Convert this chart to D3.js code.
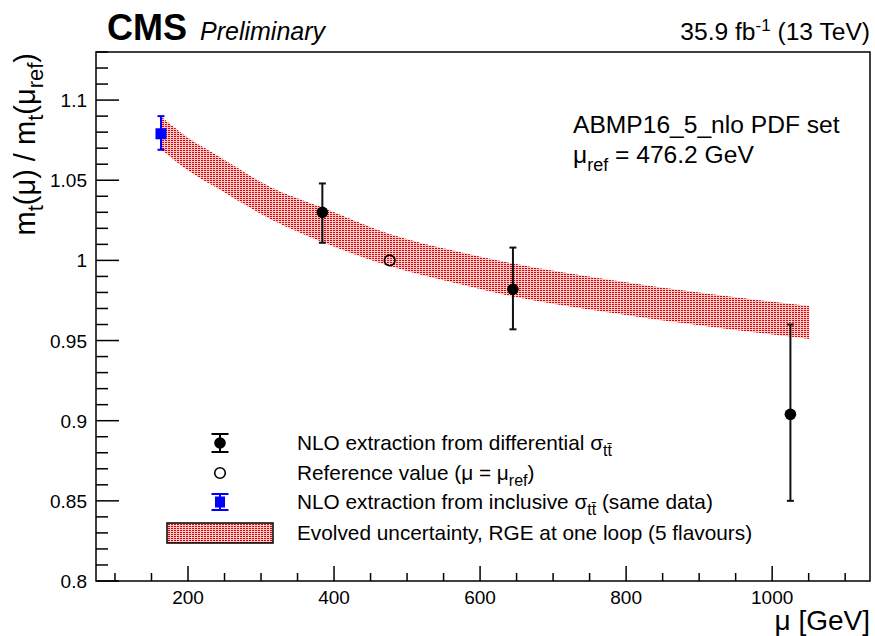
<!DOCTYPE html>
<html>
<head>
<meta charset="utf-8">
<script src="https://cdn.jsdelivr.net/npm/d3@7"></script>
<style>
  html, body { margin: 0; padding: 0; background: #fff; }
  svg { display: block; font-family: "Liberation Sans", Arial, Helvetica, sans-serif; }
</style>
</head>
<body>
<svg id="chart" width="875" height="636"></svg>
<script>
// ---------------- data ----------------
const xTicks = [200, 400, 600, 800, 1000];
const yTicks = [0.8, 0.85, 0.9, 0.95, 1.0, 1.05, 1.1];
const yTickLabels = ["0.8", "0.85", "0.9", "0.95", "1", "1.05", "1.1"];

// NLO extraction from differential cross section
const diffMu   = [384, 645, 1025];
const diffVal  = [1.030, 0.982, 0.904];
const diffErrUp = [0.018, 0.026, 0.056];
const diffErrDn = [0.019, 0.025, 0.054];

// Reference value
const refMu = [476.2];
const refVal = [1.0];

// NLO extraction from inclusive cross section
const inclMu = [163];
const inclVal = [1.079];
const inclErrUp = [0.011];
const inclErrDn = [0.010];

// Evolved uncertainty band
const bandMu = [164, 200, 242, 312, 384, 476, 560, 640, 777, 900, 1051];
const bandHi = [1.0895, 1.0765, 1.0650, 1.0460, 1.0330, 1.0165, 1.0065, 0.9985, 0.9880, 0.9800, 0.9715];
const bandLo = [1.0690, 1.0560, 1.0445, 1.0260, 1.0115, 0.9965, 0.9865, 0.9780, 0.9675, 0.9595, 0.9510];

// ---------------- layout ----------------
const svg = d3.select("#chart");
const L = 96, R = 870, T = 52, B = 581;
const x = d3.scaleLinear().domain([74, 1134]).range([L, R]);
const y = d3.scaleLinear().domain([0.8, 1.13]).range([B, T]);

// pattern
const defs = svg.append("defs");
const pat = defs.append("pattern").attr("id", "dots")
  .attr("width", 3).attr("height", 2).attr("patternUnits", "userSpaceOnUse");
pat.append("rect").attr("width", 3).attr("height", 2).attr("fill", "#f8cccc");
pat.append("rect").attr("x", 0).attr("y", 0).attr("width", 2).attr("height", 1).attr("fill", "#e00000");

// band
const bandData = bandMu.map((m, i) => ({ m, hi: bandHi[i], lo: bandLo[i] }));
const area = d3.area()
  .x(d => x(d.m)).y0(d => y(d.lo)).y1(d => y(d.hi))
  .curve(d3.curveMonotoneX);
svg.append("path").datum(bandData).attr("d", area)
  .attr("fill", "url(#dots)").attr("stroke", "none");

// axes
const gx = svg.append("g").attr("transform", `translate(0,${B})`);
const xMinor = d3.range(100, 1101, 50);
gx.selectAll("line.tk").data(xMinor).enter().append("line")
  .attr("x1", d => x(d)).attr("x2", d => x(d))
  .attr("y1", 0).attr("y2", d => (d % 200 === 0) ? -15 : -8)
  .attr("stroke", "#000").attr("stroke-width", 1.5);
gx.selectAll("text").data(xTicks).enter().append("text")
  .attr("x", d => x(d)).attr("y", 23)
  .attr("text-anchor", "middle").attr("font-size", 19).text(d => d);

const gy = svg.append("g").attr("transform", `translate(${L},0)`);
const yMinor = d3.range(80, 114, 1).map(v => v / 100);
gy.selectAll("line.tk").data(yMinor).enter().append("line")
  .attr("x1", 0).attr("x2", d => (Math.round(d * 100) % 5 === 0) ? 23 : 12)
  .attr("y1", d => y(d)).attr("y2", d => y(d))
  .attr("stroke", "#000").attr("stroke-width", 1.5);
gy.selectAll("text").data(yTicks).enter().append("text")
  .attr("x", -9).attr("y", d => y(d) + 7)
  .attr("text-anchor", "end").attr("font-size", 19)
  .text((d, i) => yTickLabels[i]);

// frame
svg.append("rect").attr("x", L).attr("y", T).attr("width", R - L).attr("height", B - T)
  .attr("fill", "none").attr("stroke", "#000").attr("stroke-width", 1.5);

// error bars helper
function errBar(g, cx, yTop, yBot, color, cap) {
  g.append("line").attr("x1", cx).attr("x2", cx).attr("y1", yTop).attr("y2", yBot)
    .attr("stroke", color).attr("stroke-width", 2);
  g.append("line").attr("x1", cx - cap).attr("x2", cx + cap).attr("y1", yTop).attr("y2", yTop)
    .attr("stroke", color).attr("stroke-width", 2);
  g.append("line").attr("x1", cx - cap).attr("x2", cx + cap).attr("y1", yBot).attr("y2", yBot)
    .attr("stroke", color).attr("stroke-width", 2);
}

const gp = svg.append("g");
// inclusive
inclMu.forEach((m, i) => {
  errBar(gp, x(m), y(inclVal[i] + inclErrUp[i]), y(inclVal[i] - inclErrDn[i]), "#0000ff", 3.5);
  gp.append("rect").attr("x", x(m) - 5.5).attr("y", y(inclVal[i]) - 5.5)
    .attr("width", 11).attr("height", 11).attr("fill", "#0000ff");
});
// differential
diffMu.forEach((m, i) => {
  errBar(gp, x(m), y(diffVal[i] + diffErrUp[i]), y(diffVal[i] - diffErrDn[i]), "#111", 3.5);
  gp.append("circle").attr("cx", x(m)).attr("cy", y(diffVal[i])).attr("r", 5.8).attr("fill", "#000");
});
// reference
refMu.forEach((m, i) => {
  gp.append("circle").attr("cx", x(m)).attr("cy", y(refVal[i])).attr("r", 5.3)
    .attr("fill", "none").attr("stroke", "#000").attr("stroke-width", 1.6);
});

// ---------------- texts ----------------
svg.append("text").attr("x", 107).attr("y", 40).attr("font-size", 36).attr("font-weight", "bold").text("CMS");
svg.append("text").attr("x", 200).attr("y", 40).attr("font-size", 25).attr("font-style", "italic").text("Preliminary");

const lumi = svg.append("text").attr("x", 870).attr("y", 40).attr("font-size", 24.6).attr("text-anchor", "end");
lumi.append("tspan").text("35.9 fb");
lumi.append("tspan").attr("font-size", 17).attr("dy", -9).text("-1");
lumi.append("tspan").attr("dy", 9).text(" (13 TeV)");

svg.append("text").attr("x", 573).attr("y", 133).attr("font-size", 24.6).text("ABMP16_5_nlo PDF set");
const mref = svg.append("text").attr("x", 573).attr("y", 163).attr("font-size", 24.6);
mref.append("tspan").text("μ");
mref.append("tspan").attr("font-size", 18).attr("dy", 8).text("ref");
mref.append("tspan").attr("dy", -8).text(" = 476.2 GeV");

// x title
svg.append("text").attr("x", 870).attr("y", 630).attr("font-size", 28).attr("text-anchor", "end").text("μ [GeV]");
// y title
const yt = svg.append("text").attr("transform", "translate(35,53) rotate(-90)")
  .attr("font-size", 29).attr("text-anchor", "end");
yt.append("tspan").text("m");
yt.append("tspan").attr("font-size", 22).attr("dy", 8).text("t");
yt.append("tspan").attr("dy", -8).text("(μ) / m");
yt.append("tspan").attr("font-size", 22).attr("dy", 8).text("t");
yt.append("tspan").attr("dy", -8).text("(μ");
yt.append("tspan").attr("font-size", 22).attr("dy", 8).text("ref");
yt.append("tspan").attr("dy", -8).text(")");

// ---------------- legend ----------------
const lg = svg.append("g");
const mx = 220, tx = 297, fs = 20.8;
const rows = [443, 473, 502, 533];
// row 1
errBar(lg, mx, rows[0] - 9, rows[0] + 9, "#000", 8.5);
lg.append("circle").attr("cx", mx).attr("cy", rows[0]).attr("r", 5.8).attr("fill", "#000");
// row 2
lg.append("circle").attr("cx", mx).attr("cy", rows[1]).attr("r", 5.3)
  .attr("fill", "none").attr("stroke", "#000").attr("stroke-width", 1.6);
// row 3
errBar(lg, mx, rows[2] - 8, rows[2] + 8, "#0000ff", 8.5);
lg.append("rect").attr("x", mx - 5).attr("y", rows[2] - 5.5).attr("width", 10).attr("height", 11).attr("fill", "#0000ff");
// row 4
lg.append("rect").attr("x", 167).attr("y", rows[3] - 10).attr("width", 106).attr("height", 20)
  .attr("fill", "url(#dots)").attr("stroke", "#000").attr("stroke-width", 1.5);

function legText(yc, parts) {
  const t = lg.append("text").attr("x", tx).attr("y", yc + 7).attr("font-size", fs);
  parts.forEach(p => {
    const s = t.append("tspan").text(p.t);
    if (p.sub) s.attr("font-size", 16).attr("dy", p.dy);
    else if (p.dy) s.attr("dy", p.dy);
  });
}
legText(rows[0], [{ t: "NLO extraction from differential σ" }, { t: "tt̄", sub: true, dy: 6 }]);
legText(rows[1], [{ t: "Reference value (μ = μ" }, { t: "ref", sub: true, dy: 6 }, { t: ")", dy: -6 }]);
legText(rows[2], [{ t: "NLO extraction from inclusive σ" }, { t: "tt̄", sub: true, dy: 6 }, { t: " (same data)", dy: -6 }]);
legText(rows[3], [{ t: "Evolved uncertainty, RGE at one loop (5 flavours)" }]);
</script>
</body>
</html>
